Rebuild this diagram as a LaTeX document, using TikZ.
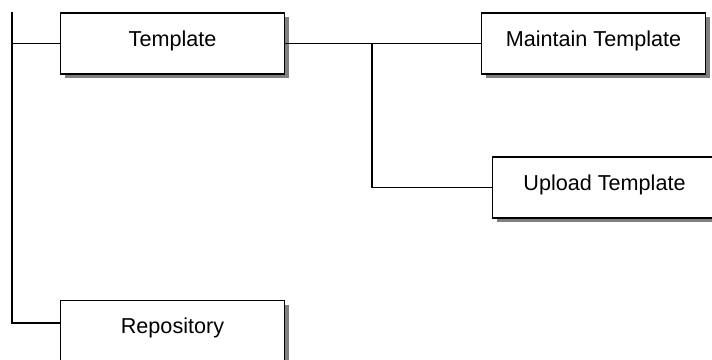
\documentclass[tikz,border=0pt]{standalone}
\usepackage{fontspec}
\setmainfont{Liberation Sans}
\usetikzlibrary{shadows}

\tikzset{
	taskbox/.style = {draw, line width=0.9pt, fill=white, minimum width=112pt, minimum height=30.5pt,
		text height=8pt, text depth=5.5pt, font=\fontsize{10.8}{12}\selectfont,
		drop shadow={shadow xshift=2pt, shadow yshift=-2pt, fill=black!50, opacity=1}},
	link/.style = {line width=0.85pt}
}

\begin{document}
\begin{tikzpicture}[x=0.5pt, y=-0.5pt]
	\useasboundingbox (0,0) rectangle (712,359);
	\node[taskbox] (tmpl) at (172.5,43.5) {Template};
	\node[taskbox] (maint) at (593.5,43.5) {Maintain Template};
	\node[taskbox] (upload) at (604.5,187.5) {Upload Template};
	\node[taskbox] (repo) at (172.5,331) {Repository};
	\coordinate (root) at (12,12);
	\coordinate (fork) at (372,43);
	\draw[link] (root) |- (tmpl.west);
	\draw[link] (root) |- ([yshift=4pt]repo.west);
	\draw[link] (tmpl.east) -- (maint.west);
	\draw[link] (fork) |- (upload.west);
\end{tikzpicture}
\end{document}
